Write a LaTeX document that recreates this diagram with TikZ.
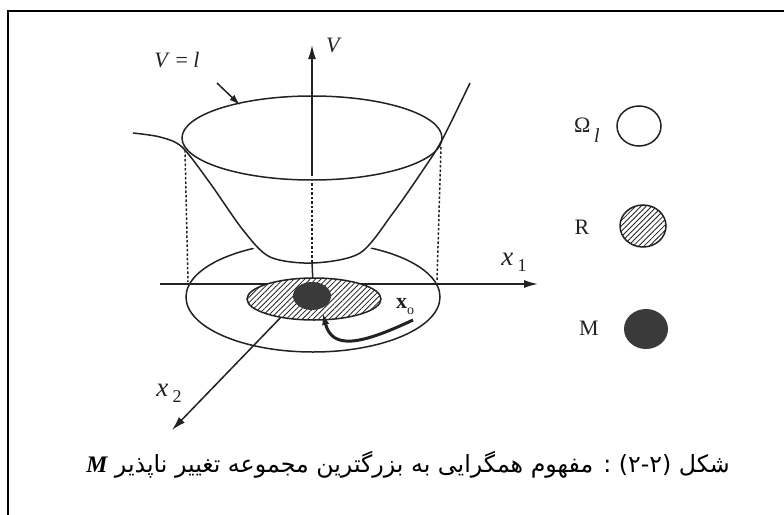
\documentclass[tikz,border=0pt]{standalone}
\usepackage{fontspec}
\setmainfont{Liberation Serif}
\usetikzlibrary{arrows.meta,patterns.meta,positioning}
\TeXXeTstate=1
\newfontfamily\persianfont[Script=Arabic]{DejaVu Sans}
\definecolor{InkGray}{HTML}{222222}
\definecolor{DotGray}{HTML}{3A3A3A}

\tikzset{
  curveline/.style={draw=InkGray, line width=1.5pt},
  hidden/.style={draw=InkGray, line width=1.5pt, dash pattern=on 2.5pt off 2pt},
  axisline/.style={draw=InkGray, line width=1.5pt, -{Latex[length=14pt,width=8pt]}},
  hatch/.style={pattern={Lines[angle=45,distance=3.8pt,line width=0.8pt]}, pattern color=InkGray},
  lbl/.style={font=\fontsize{22}{26}\selectfont, inner sep=0pt, text=InkGray},
  axislbl/.style={font=\fontsize{27}{32}\selectfont, inner sep=0pt, text=InkGray}
}
\newcommand{\lowsub}[2]{#1\raisebox{-6pt}{\fontsize{18}{20}\selectfont #2}}

\begin{document}
\begin{tikzpicture}[x=1pt,y=-1pt]
  \useasboundingbox (0,0) rectangle (784,514);
  \clip (0,0) rectangle (784,514);
  \fill[white] (0,0) rectangle (784,514);
  % frame
  \draw[line width=2.2pt] (8,11) rectangle (800,530);

  % ground ellipse
  \coordinate (O) at (313,284);
  \draw[curveline] (313,297) ellipse [x radius=127pt, y radius=55pt];
  % hide what is behind the bowl
  \path[fill=white, draw=white, line width=7pt] plot[smooth] coordinates {(182,147) (210,183) (243,230) (270,257) (313,263) (360,253) (393,213) (423,170) (442,140)} -- cycle;

  % projections of the level set
  \coordinate (leftup) at (185,150);
  \coordinate (leftdown) at (188,282);
  \coordinate (rightup) at (441,147);
  \coordinate (rightdown) at (437,280);
  \draw[hidden] (leftup) -- (leftdown);
  \draw[hidden] (rightup) -- (rightdown);

  % axes
  \coordinate (Vtop) at (312,45);
  \coordinate (Vlow) at (312,176);
  \coordinate (Vhid) at (312,262);
  \coordinate (xonestart) at (160,284);
  \coordinate (xoneend) at (538,284);
  \coordinate (xtwoend) at (172,430);
  \draw[axisline] (Vlow) -- (Vtop);
  \draw[hidden] (312,183) -- (Vhid);
  \draw[curveline] (Vhid) -- (O);
  \draw[axisline] (xonestart) -- (xoneend);
  \draw[axisline] (O) -- (xtwoend);

  % the function V
  \draw[curveline] plot[smooth] coordinates {(133,133) (160,137) (182,147) (210,183) (243,230) (270,257) (313,263) (360,253) (393,213) (423,170) (442,140) (470,83)};
  \draw[curveline] (312,138) ellipse [x radius=130pt, y radius=42pt];

  % region R and set M
  \fill[white] (314,299) ellipse [x radius=67pt, y radius=21pt];
  \path[hatch] (314,299) ellipse [x radius=67pt, y radius=21pt];
  \draw[curveline] (314,299) ellipse [x radius=67pt, y radius=21pt];
  \fill[DotGray] (312,296) ellipse [x radius=19pt, y radius=14pt];

  % trajectory from x0
  \coordinate (xzero) at (413,320);
  \coordinate (trajend) at (322,310);
  \draw[draw=InkGray, line width=3pt, -{Latex[length=15pt,width=7pt]}] (xzero) .. controls (360,345) and (332,350) .. (trajend);

  % labels
  \node[lbl] (vlabel) at (334,45) {\textit{V}};
  \node[lbl] (levellabel) at (177,60) {\textit{V} = \textit{l}};
  \coordinate (pointstart) at (217,83);
  \coordinate (pointend) at (240,105);
  \draw[draw=InkGray, line width=1.5pt, -{Latex[length=11pt,width=7pt]}] (pointstart) -- (pointend);
  \node[axislbl] (xonelabel) at (514,262) {\lowsub{\textit{x}\,}{1}};
  \node[axislbl] (xtwolabel) at (169,393) {\lowsub{\textit{x}\,}{2}};
  \node[lbl] (xzerolabel) at (405,307) {\textbf{x}\raisebox{-6pt}{\fontsize{14}{16}\selectfont o}};

  % legend
  \node[lbl] (omegalabel) at (587,130) {Ω\,\raisebox{-10pt}{\fontsize{20}{22}\selectfont\textit{l}}};
  \draw[curveline] (639,126) ellipse [x radius=22pt, y radius=20pt];
  \node[lbl] (rlabel) at (582,227) {R};
  \fill[white] (643,226) ellipse [x radius=23pt, y radius=21pt];
  \path[hatch] (643,226) ellipse [x radius=23pt, y radius=21pt];
  \draw[curveline] (643,226) ellipse [x radius=23pt, y radius=21pt];
  \node[lbl] (mlabel) at (589,328) {M};
  \fill[DotGray] (646,329) ellipse [x radius=22pt, y radius=20pt];

  % caption
  \node[anchor=base east, inner sep=0pt, font=\persianfont\fontsize{23.7}{28}\selectfont] (caption) at (730,472) {\beginR شکل (۲-۲) : مفهوم همگرایی به بزرگترین مجموعه تغییر ناپذیر {\rmfamily\bfseries\itshape M}\endR};
\end{tikzpicture}
\end{document}
